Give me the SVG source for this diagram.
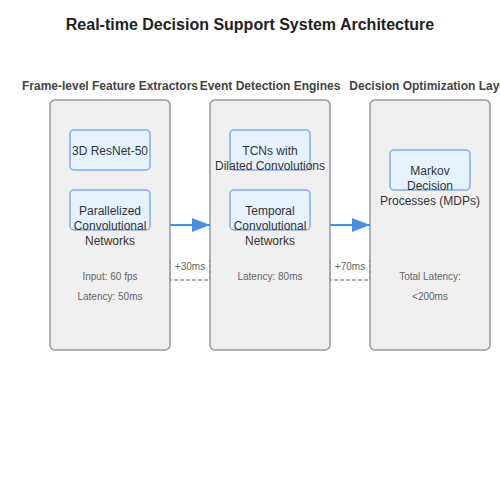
<svg xmlns="http://www.w3.org/2000/svg" width="500" height="500" viewBox="0 0 500 500">
<defs>
<style>
.title{font-family:"Liberation Sans",Arial,sans-serif;font-size:16px;font-weight:bold;fill:#222;text-anchor:middle}
.sec{font-family:"Liberation Sans",Arial,sans-serif;font-size:12px;font-weight:bold;fill:#444;text-anchor:middle}
.layer{fill:#f0f0f0;stroke:#999;stroke-width:1.5}
.box{fill:#e6f2ff;stroke:#7fb0ea;stroke-width:1.5}
.lbl{font-family:"Liberation Sans",Arial,sans-serif;font-size:12px;fill:#333;text-anchor:middle}
.note{font-family:"Liberation Sans",Arial,sans-serif;font-size:10px;fill:#666;text-anchor:middle}
.flow{stroke:#4a90e2;stroke-width:2;fill:none}
.dash{stroke:#999;stroke-width:1.5;fill:none;stroke-dasharray:4,2}
</style>
<marker id="arrow" markerUnits="userSpaceOnUse" markerWidth="18" markerHeight="14" viewBox="0 0 18 14" refX="18" refY="7" orient="auto">
<path d="M0,0 L18,7 L0,14 z" fill="#4a90e2"/>
</marker>
</defs>
<rect width="500" height="500" fill="#ffffff"/>
<text class="title" x="250" y="30">Real-time Decision Support System Architecture</text>

<g id="layer-frame">
<text class="sec" x="110" y="90">Frame-level Feature Extractors</text>
<rect class="layer" x="50" y="100" width="120" height="250" rx="5"/>
<text class="note" x="110" y="280">Input: 60 fps</text>
<text class="note" x="110" y="300">Latency: 50ms</text>
</g>
<g id="node-resnet">
<rect class="box" x="70" y="130" width="80" height="40" rx="4"/>
<text class="lbl" x="110" y="155">3D ResNet-50</text>
</g>
<g id="node-pcn">
<rect class="box" x="70" y="190" width="80" height="40" rx="4"/>
<text class="lbl" x="110" y="215">Parallelized</text>
<text class="lbl" x="110" y="230">Convolutional</text>
<text class="lbl" x="110" y="245">Networks</text>
</g>

<g id="layer-event">
<text class="sec" x="270" y="90">Event Detection Engines</text>
<rect class="layer" x="210" y="100" width="120" height="250" rx="5"/>
<text class="note" x="270" y="280">Latency: 80ms</text>
</g>
<g id="node-tcn-dilated">
<rect class="box" x="230" y="130" width="80" height="40" rx="4"/>
<text class="lbl" x="270" y="155">TCNs with</text>
<text class="lbl" x="270" y="170">Dilated Convolutions</text>
</g>
<g id="node-tcn">
<rect class="box" x="230" y="190" width="80" height="40" rx="4"/>
<text class="lbl" x="270" y="215">Temporal</text>
<text class="lbl" x="270" y="230">Convolutional</text>
<text class="lbl" x="270" y="245">Networks</text>
</g>

<g id="layer-decision">
<text class="sec" x="430" y="90">Decision Optimization Layer</text>
<rect class="layer" x="370" y="100" width="120" height="250" rx="5"/>
<text class="note" x="430" y="280">Total Latency:</text>
<text class="note" x="430" y="300">&lt;200ms</text>
</g>
<g id="node-mdp">
<rect class="box" x="390" y="150" width="80" height="40" rx="4"/>
<text class="lbl" x="430" y="175">Markov</text>
<text class="lbl" x="430" y="190">Decision</text>
<text class="lbl" x="430" y="205">Processes (MDPs)</text>
</g>

<g id="connectors">
<line class="flow" x1="170" y1="225" x2="210" y2="225" marker-end="url(#arrow)"/>
<line class="flow" x1="330" y1="225" x2="370" y2="225" marker-end="url(#arrow)"/>
<path class="dash" d="M170,260 L170,280 L210,280 L210,260"/>
<text class="note" x="190" y="270">+30ms</text>
<path class="dash" d="M330,260 L330,280 L370,280 L370,260"/>
<text class="note" x="350" y="270">+70ms</text>
</g>
</svg>
